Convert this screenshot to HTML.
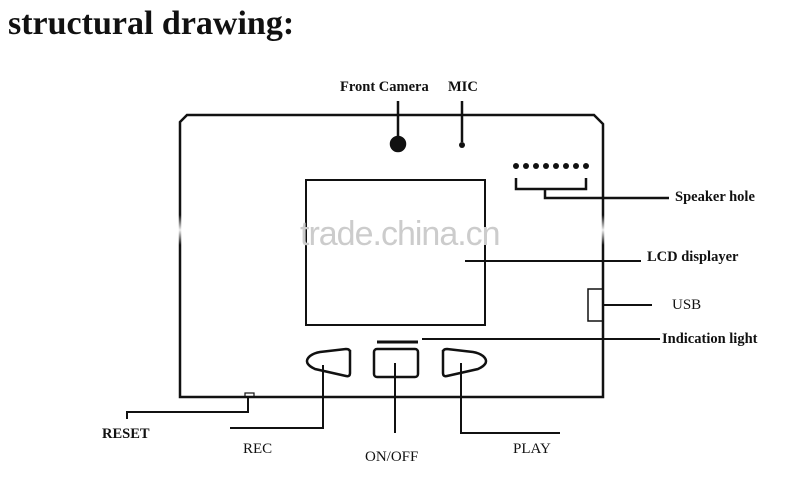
<!DOCTYPE html>
<html><head><style>
body{margin:0;width:800px;height:492px;background:#fff;overflow:hidden;position:relative}
.t{position:absolute;font-family:"Liberation Serif",serif;color:#111;white-space:nowrap}
.b{font-weight:bold}
</style></head><body>
<div class="t b" style="left:8px;top:5px;font-size:34px">structural drawing:</div>
<svg width="800" height="492" style="position:absolute;left:0;top:0" fill="none" stroke="#111" stroke-width="2.5">
<path d="M187 115 L594 115 L603 124 L603 397 L180 397 L180 122 Z"/>
<line x1="398" y1="101" x2="398" y2="140"/><circle cx="398" cy="144" r="7" fill="#111"/>
<line x1="462" y1="101" x2="462" y2="142"/><circle cx="462" cy="145" r="3" fill="#111" stroke="none"/>
<g fill="#111" stroke="none">
<circle cx="516" cy="166" r="3"/><circle cx="526" cy="166" r="3"/><circle cx="536" cy="166" r="3"/><circle cx="546" cy="166" r="3"/><circle cx="556" cy="166" r="3"/><circle cx="566" cy="166" r="3"/><circle cx="576" cy="166" r="3"/><circle cx="586" cy="166" r="3"/>
</g>
<path d="M516 178 V189 H586 V178 M545 189 V198 H669"/>
<rect x="306" y="180" width="179" height="145" stroke-width="2"/>
<line x1="465" y1="261" x2="641" y2="261" stroke-width="2"/>
<rect x="588" y="289" width="15" height="32" stroke-width="1.5"/>
<line x1="603" y1="305" x2="652" y2="305" stroke-width="2"/>
<line x1="377" y1="342" x2="418" y2="342" stroke-width="3"/>
<line x1="422" y1="339" x2="660" y2="339" stroke-width="2"/>
<path d="M350 350 L350 373 Q350 377 346 376 L315 369 Q302 363 310 356 Q314 353 320 352 L346 349 Q350 349 350 352Z" stroke-width="2.5"/>
<rect x="374" y="349" width="44" height="28" rx="3"/>
<path d="M443 350 L443 373 Q443 377 447 376 L478 369 Q491 363 483 356 Q479 353 473 352 L447 349 Q443 349 443 352Z" stroke-width="2.5"/>
<rect x="245" y="393" width="9" height="4" stroke-width="1.2"/>
<path d="M248 397 V412 H127 V419" stroke-width="2"/>
<path d="M323 365 V428 H230" stroke-width="2"/>
<path d="M395 363 V433" stroke-width="2"/>
<path d="M461 363 V433 H560" stroke-width="2"/>
</svg>
<div style="position:absolute;left:596px;top:215px;width:14px;height:30px;background:linear-gradient(#fff0,#fffe,#fff0)"></div>
<div style="position:absolute;left:174px;top:215px;width:14px;height:30px;background:linear-gradient(#fff0,#fffe,#fff0)"></div>
<div class="t" style="left:300px;top:215px;font-family:'Liberation Sans',sans-serif;font-size:34px;color:#ccc;letter-spacing:-1px">trade.china.cn</div>
<div class="t b" style="left:340px;top:79px;font-size:14.5px">Front Camera</div>
<div class="t b" style="left:448px;top:79px;font-size:14.5px">MIC</div>
<div class="t b" style="left:675px;top:189px;font-size:14.5px">Speaker hole</div>
<div class="t b" style="left:647px;top:249px;font-size:14.5px">LCD displayer</div>
<div class="t" style="left:672px;top:297px;font-size:15px">USB</div>
<div class="t b" style="left:662px;top:331px;font-size:14.5px">Indication light</div>
<div class="t b" style="left:102px;top:426px;font-size:14.5px">RESET</div>
<div class="t" style="left:243px;top:441px;font-size:15px">REC</div>
<div class="t" style="left:365px;top:449px;font-size:15px">ON/OFF</div>
<div class="t" style="left:513px;top:441px;font-size:15px">PLAY</div>
</body></html>
